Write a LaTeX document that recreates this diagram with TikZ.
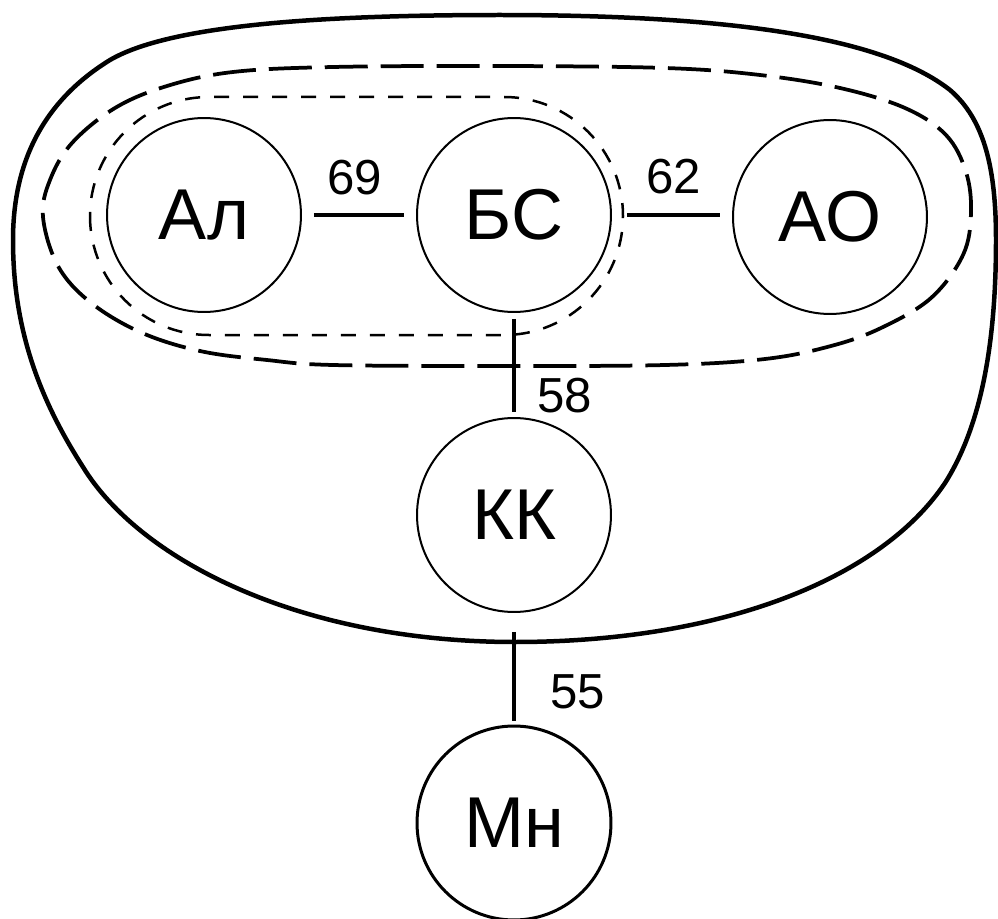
\documentclass[tikz,border=0pt]{standalone}
\usepackage{fontspec}
\setmainfont{Liberation Sans}
\begin{document}
\begin{tikzpicture}[x=0.02cm,y=-0.02cm,
  vert/.style={circle,draw,line width=0.04cm,minimum size=3.88cm,inner sep=0pt,font=\fontsize{41}{41}\selectfont},
  lbl/.style={font=\fontsize{28}{28}\selectfont,inner sep=0pt},
  conn/.style={line width=0.062cm},
  outer/.style={line width=0.09cm},
  longdash/.style={line width=0.075cm,dash pattern=on 0.86cm off 0.26cm},
  shortdash/.style={line width=0.05cm,dash pattern=on 0.3cm off 0.28cm}]
\useasboundingbox (0,0) rectangle (998,919);
% outer solid contour
\draw[outer] (500,15) .. controls (720,15) and (880,35) .. (950,90)
  .. controls (985,120) and (996,170) .. (996,240)
  .. controls (996,330) and (985,420) .. (945,483)
  .. controls (880,580) and (720,642) .. (515,642)
  .. controls (300,642) and (140,560) .. (83,467)
  .. controls (40,400) and (13,330) .. (13,240)
  .. controls (13,160) and (45,100) .. (110,60)
  .. controls (170,25) and (320,15) .. (500,15) -- cycle;
% long dashed contour
\draw[longdash] plot[smooth cycle, tension=0.6] coordinates {(333,67) (500,66) (665,68) (760,75) (840,88) (905,108) (946,135) (966,172) (971,213) (963,255) (931,298) (881,328) (831,346) (765,359) (665,365) (500,366) (333,365) (267,360) (200,351) (140,332) (90,302) (58,266) (43,217) (50,180) (72,143) (115,108) (167,86) (233,72)};
% short dashed contour
\draw[shortdash,rounded corners=2.38cm] (90,97) rectangle (623,335);
% vertices
\node[vert] (al) at (204,215) {Ал};
\node[vert] (bs) at (514,215) {БС};
\node[vert] (ao) at (830,217) {АО};
\node[vert] (kk) at (514,515) {КК};
\node[vert,line width=0.06cm] (mn) at (514,823) {Мн};
% connectors
\draw[conn,shorten <=0.24cm,shorten >=0.24cm] (al.east) -- (bs.west);
\draw[conn,shorten <=0.3cm,shorten >=0.24cm] (bs.east) -- (bs.east -| ao.west);
\draw[conn,shorten <=0.12cm,shorten >=0.1cm] (bs.south) -- (kk.north);
\draw[conn,shorten <=0.38cm,shorten >=0.08cm] (kk.south) -- (mn.north);
% labels
\node[lbl] (l69) at (355,178) {69};
\node[lbl] (l62) at (674,177) {62};
\node[lbl] (l58) at (565,396) {58};
\node[lbl] (l55) at (578,692) {55};
\end{tikzpicture}
\end{document}
